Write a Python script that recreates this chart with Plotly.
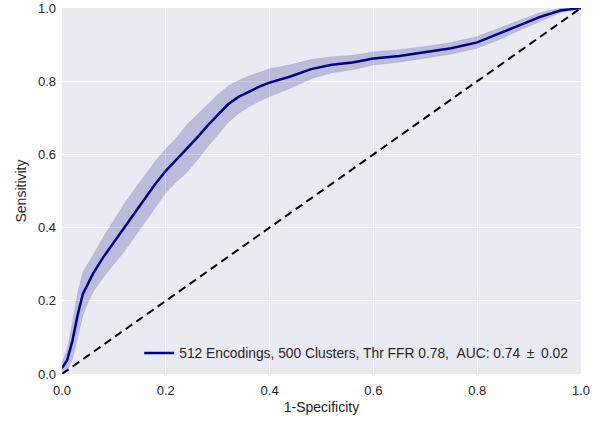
import plotly.graph_objects as go

fpr = [0, 0.01, 0.02, 0.03, 0.04, 0.05, 0.06, 0.08, 0.10, 0.12, 0.14, 0.16, 0.18, 0.20,
       0.22, 0.24, 0.26, 0.28, 0.30, 0.32, 0.34, 0.36, 0.38, 0.40, 0.44, 0.48, 0.52, 0.56,
       0.60, 0.65, 0.70, 0.75, 0.80, 0.84, 0.88, 0.92, 0.96, 1.0]
tpr_mean = [0.016, 0.038, 0.09, 0.16, 0.218, 0.248, 0.275, 0.32, 0.36, 0.40, 0.44, 0.48, 0.52, 0.555,
            0.585, 0.615, 0.645, 0.678, 0.708, 0.737, 0.757, 0.772, 0.785, 0.796, 0.813, 0.833, 0.845, 0.851,
            0.862, 0.869, 0.879, 0.89, 0.906, 0.928, 0.952, 0.975, 0.993, 1.0]
tpr_std = [0.016, 0.03, 0.05, 0.06, 0.06, 0.052, 0.05, 0.055, 0.06, 0.065, 0.065, 0.065, 0.062, 0.06,
           0.06, 0.065, 0.062, 0.058, 0.055, 0.05, 0.045, 0.042, 0.04, 0.038, 0.032, 0.026, 0.022, 0.02,
           0.018, 0.017, 0.016, 0.016, 0.016, 0.016, 0.014, 0.012, 0.006, 0.0]
diag = [0, 1]
ticks = [0.0, 0.2, 0.4, 0.6, 0.8, 1.0]
legend_label = "512 Encodings, 500 Clusters, Thr FFR 0.78, \u00a0AUC: 0.74\u00a0\u2009\u00b1\u2009\u00a00.02"

upper = [min(m + s, 1.0) for m, s in zip(tpr_mean, tpr_std)]
lower = [max(m - s, 0.0) for m, s in zip(tpr_mean, tpr_std)]

fig = go.Figure()
fig.add_trace(go.Scatter(x=diag, y=diag, mode="lines",
                         line=dict(color="black", width=2, dash="8px,5px"),
                         showlegend=False, hoverinfo="skip"))
fig.add_trace(go.Scatter(x=fpr, y=upper, mode="lines", line=dict(width=0.6, color="rgba(0,0,128,0.15)"),
                         showlegend=False, hoverinfo="skip"))
fig.add_trace(go.Scatter(x=fpr, y=lower, mode="lines", line=dict(width=0.6, color="rgba(0,0,128,0.15)"),
                         fill="tonexty", fillcolor="rgba(0,0,128,0.2)",
                         showlegend=False, hoverinfo="skip"))
fig.add_trace(go.Scatter(x=fpr, y=tpr_mean, mode="lines", name=legend_label,
                         line=dict(color="#000080", width=2.5)))

axis_common = dict(range=[0, 1], tickvals=ticks, tickformat=".1f", showgrid=True,
                   gridcolor="white", gridwidth=1.3, zeroline=False, showline=False,
                   ticks="", automargin=False, tickfont=dict(size=13, color="#262626"))
fig.update_xaxes(**axis_common, ticklabelstandoff=7,
                 title=dict(text="1-Specificity", font=dict(size=14, color="#262626"), standoff=5))
fig.update_yaxes(**axis_common, ticklabelstandoff=5,
                 title=dict(text="Sensitivity", font=dict(size=14, color="#262626"), standoff=8))

fig.update_layout(
    width=609, height=421,
    margin=dict(l=62, r=28, t=8, b=47),
    paper_bgcolor="white", plot_bgcolor="#EAEAF2",
    font=dict(family="Liberation Sans, Arial, sans-serif", color="#262626"),
    legend=dict(x=0.985, y=0.015, xanchor="right", yanchor="bottom",
                bgcolor="rgba(0,0,0,0)", font=dict(size=13.8, color="#262626")),
)
fig.write_html("out.html", config={"displayModeBar": False},
               post_script="document.body.style.margin='0';")
